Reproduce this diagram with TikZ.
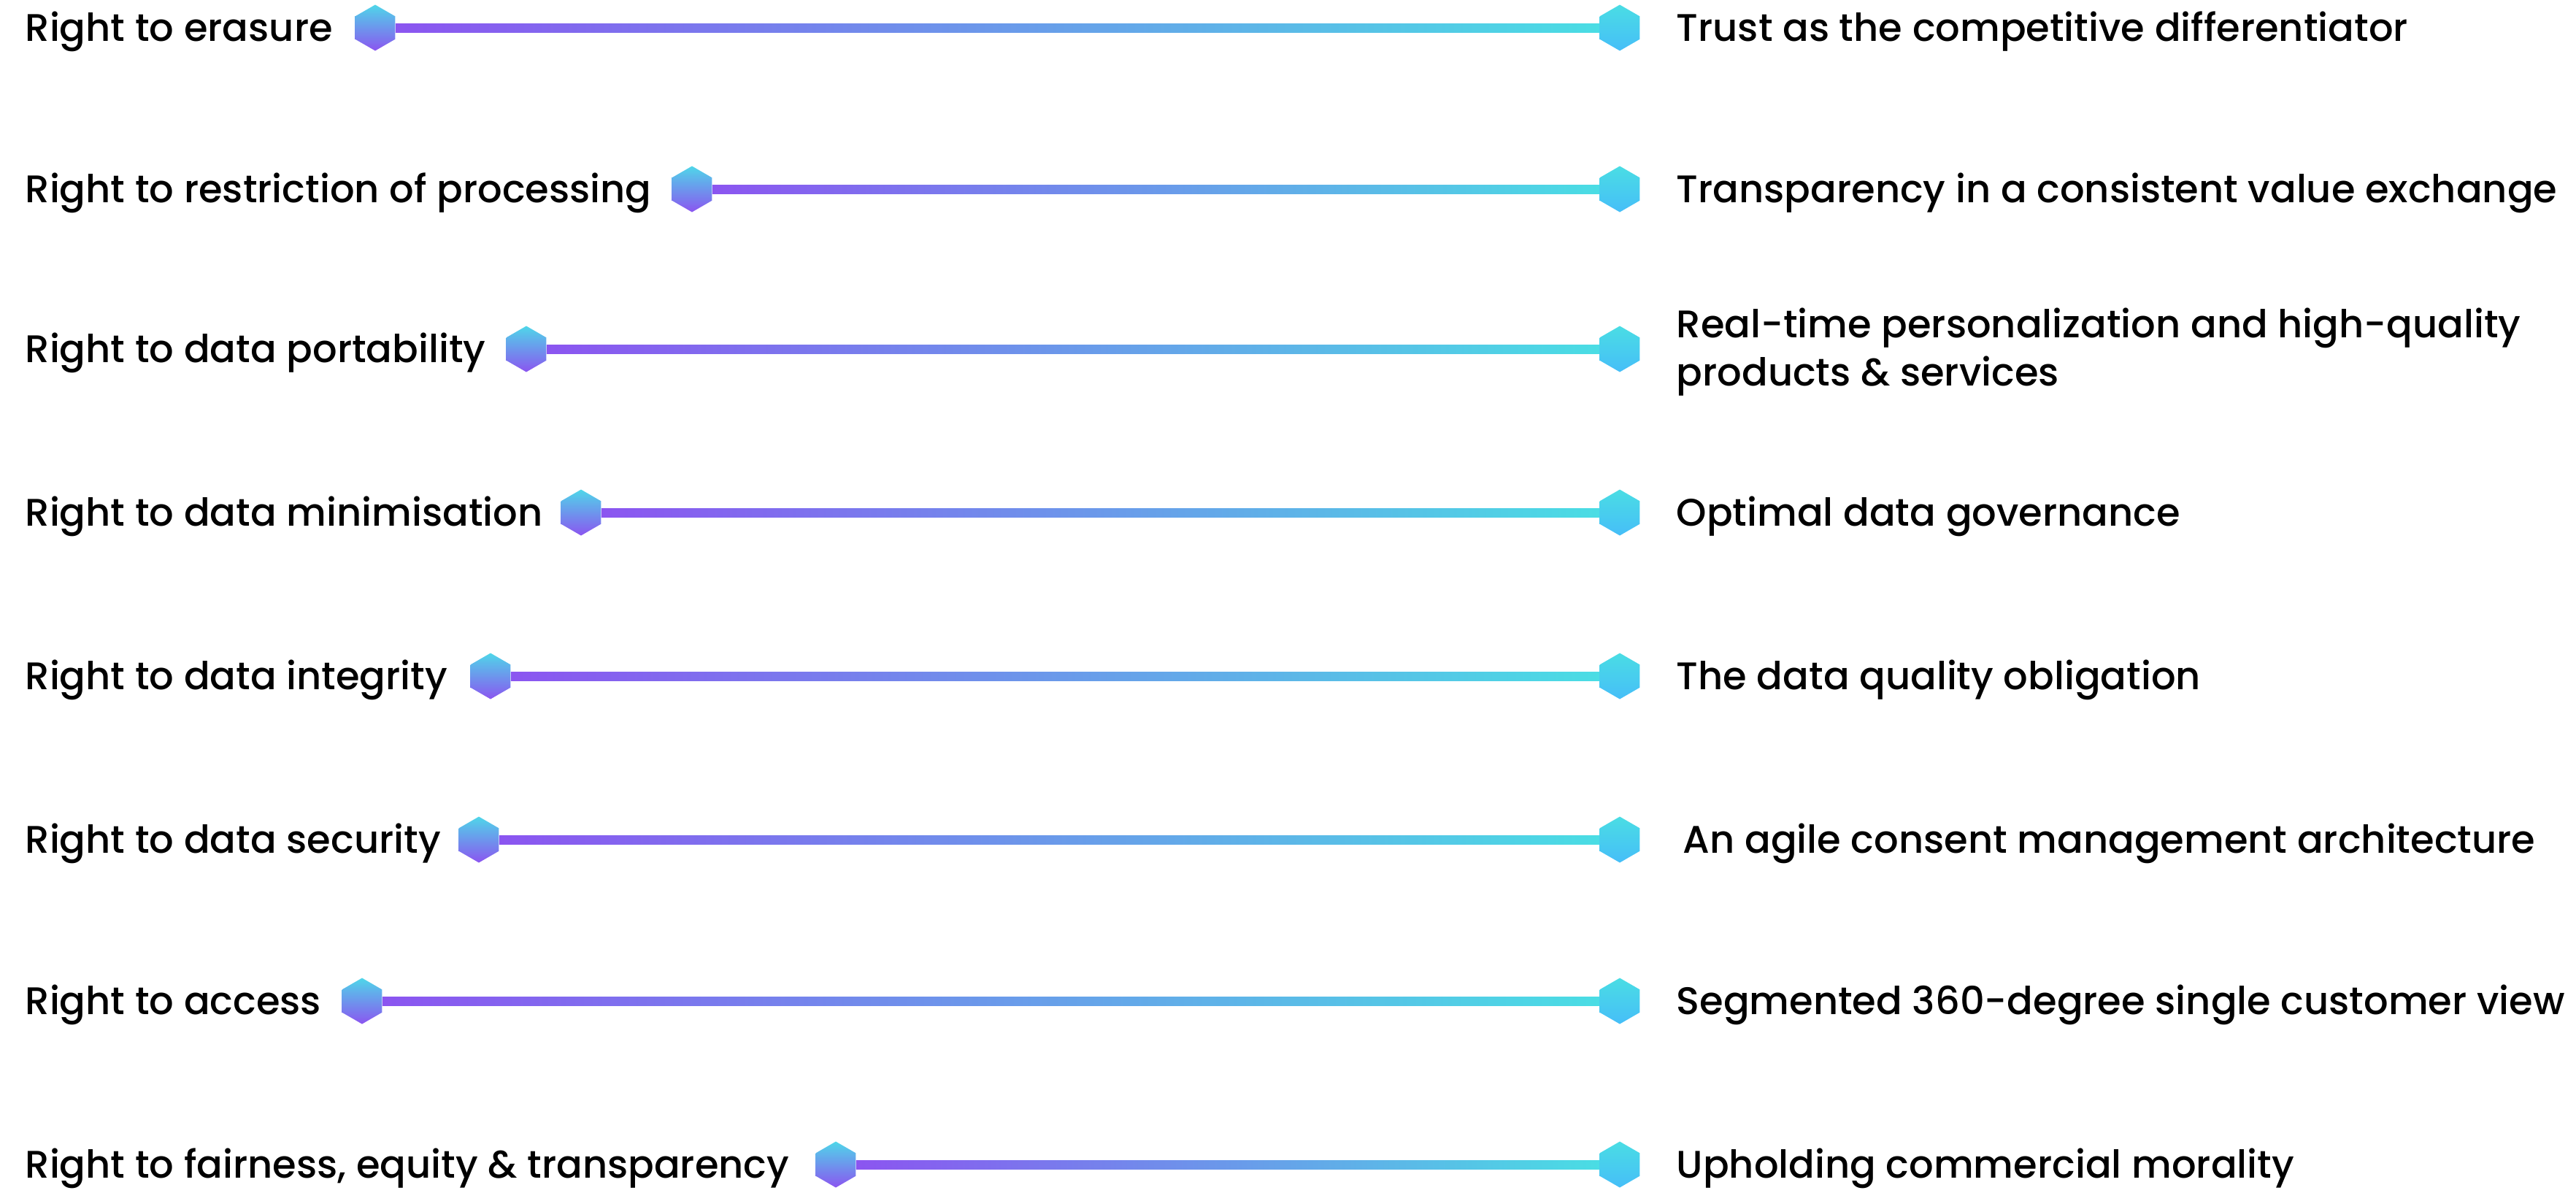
\documentclass[tikz,border=0pt]{standalone}
\usepackage{fontspec}
\setmainfont{Poppins}[UprightFont=* Medium]
\usetikzlibrary{shapes.geometric,calc}

\definecolor{vio}{HTML}{8B55F0}
\definecolor{aqua}{HTML}{4ADDE4}
\definecolor{sky}{HTML}{46BEF8}
\definecolor{teal}{HTML}{4FD6E9}

\tikzset{
  hexa/.style={regular polygon, regular polygon sides=6, shape border rotate=30,
    minimum size=0.63cm, inner sep=0pt},
  lhex/.style={hexa, top color=teal, bottom color=vio},
  rhex/.style={hexa, top color=aqua, bottom color=sky},
  lab/.style={anchor=base west, yshift=-0.185cm, inner sep=0pt, align=left,
    font=\fontsize{15}{18.8}\selectfont},
  bar/.style={left color=vio, right color=aqua}
}

\begin{document}
\begin{tikzpicture}
\useasboundingbox (0,0) rectangle (35.29,-16.33);

% hexagons, left column sits after each label, right column is aligned
\node[lhex] (l1) at (5.14,-0.38) {};
\node[lhex] (l2) at (9.48,-2.59) {};
\node[lhex] (l3) at (7.21,-4.78) {};
\node[lhex] (l4) at (7.96,-7.02) {};
\node[lhex] (l5) at (6.72,-9.26) {};
\node[lhex] (l6) at (6.56,-11.50) {};
\node[lhex] (l7) at (4.96,-13.71) {};
\node[lhex] (l8) at (11.45,-15.95) {};

\node[rhex] (r1) at (22.19,-0.38) {};
\node[rhex] (r2) at (22.19,-2.59) {};
\node[rhex] (r3) at (22.19,-4.78) {};
\node[rhex] (r4) at (22.19,-7.02) {};
\node[rhex] (r5) at (22.19,-9.26) {};
\node[rhex] (r6) at (22.19,-11.50) {};
\node[rhex] (r7) at (22.19,-13.71) {};
\node[rhex] (r8) at (22.19,-15.95) {};

% gradient bars
\shade[bar] ($(l1.east)+(0,0.06)$) rectangle ($(r1.west)-(0,0.06)$);
\shade[bar] ($(l2.east)+(0,0.06)$) rectangle ($(r2.west)-(0,0.06)$);
\shade[bar] ($(l3.east)+(0,0.06)$) rectangle ($(r3.west)-(0,0.06)$);
\shade[bar] ($(l4.east)+(0,0.06)$) rectangle ($(r4.west)-(0,0.06)$);
\shade[bar] ($(l5.east)+(0,0.06)$) rectangle ($(r5.west)-(0,0.06)$);
\shade[bar] ($(l6.east)+(0,0.06)$) rectangle ($(r6.west)-(0,0.06)$);
\shade[bar] ($(l7.east)+(0,0.06)$) rectangle ($(r7.west)-(0,0.06)$);
\shade[bar] ($(l8.east)+(0,0.06)$) rectangle ($(r8.west)-(0,0.06)$);

% rights
\node[lab] (a1) at (0.34,-0.38) {Right to erasure};
\node[lab] (a2) at (0.34,-2.59) {Right to restriction of processing};
\node[lab] (a3) at (0.34,-4.78) {Right to data portability};
\node[lab] (a4) at (0.34,-7.02) {Right to data minimisation};
\node[lab] (a5) at (0.34,-9.26) {Right to data integrity};
\node[lab] (a6) at (0.34,-11.50) {Right to data security};
\node[lab] (a7) at (0.34,-13.71) {Right to access};
\node[lab] (a8) at (0.34,-15.95) {Right to fairness, equity \& transparency};

% outcomes
\node[lab] (b1) at (22.96,-0.38) {Trust as the competitive differentiator};
\node[lab] (b2) at (22.96,-2.59) {Transparency in a consistent value exchange};
\node[lab, anchor=west, yshift=0.145cm] (b3) at (22.96,-4.78) {Real-time personalization and high-quality\\products \& services};
\node[lab] (b4) at (22.96,-7.02) {Optimal data governance};
\node[lab] (b5) at (22.96,-9.26) {The data quality obligation};
\node[lab] (b6) at (23.05,-11.50) {An agile consent management architecture};
\node[lab] (b7) at (22.96,-13.71) {Segmented 360-degree single customer view};
\node[lab] (b8) at (22.96,-15.95) {Upholding commercial morality};
\end{tikzpicture}
\end{document}
